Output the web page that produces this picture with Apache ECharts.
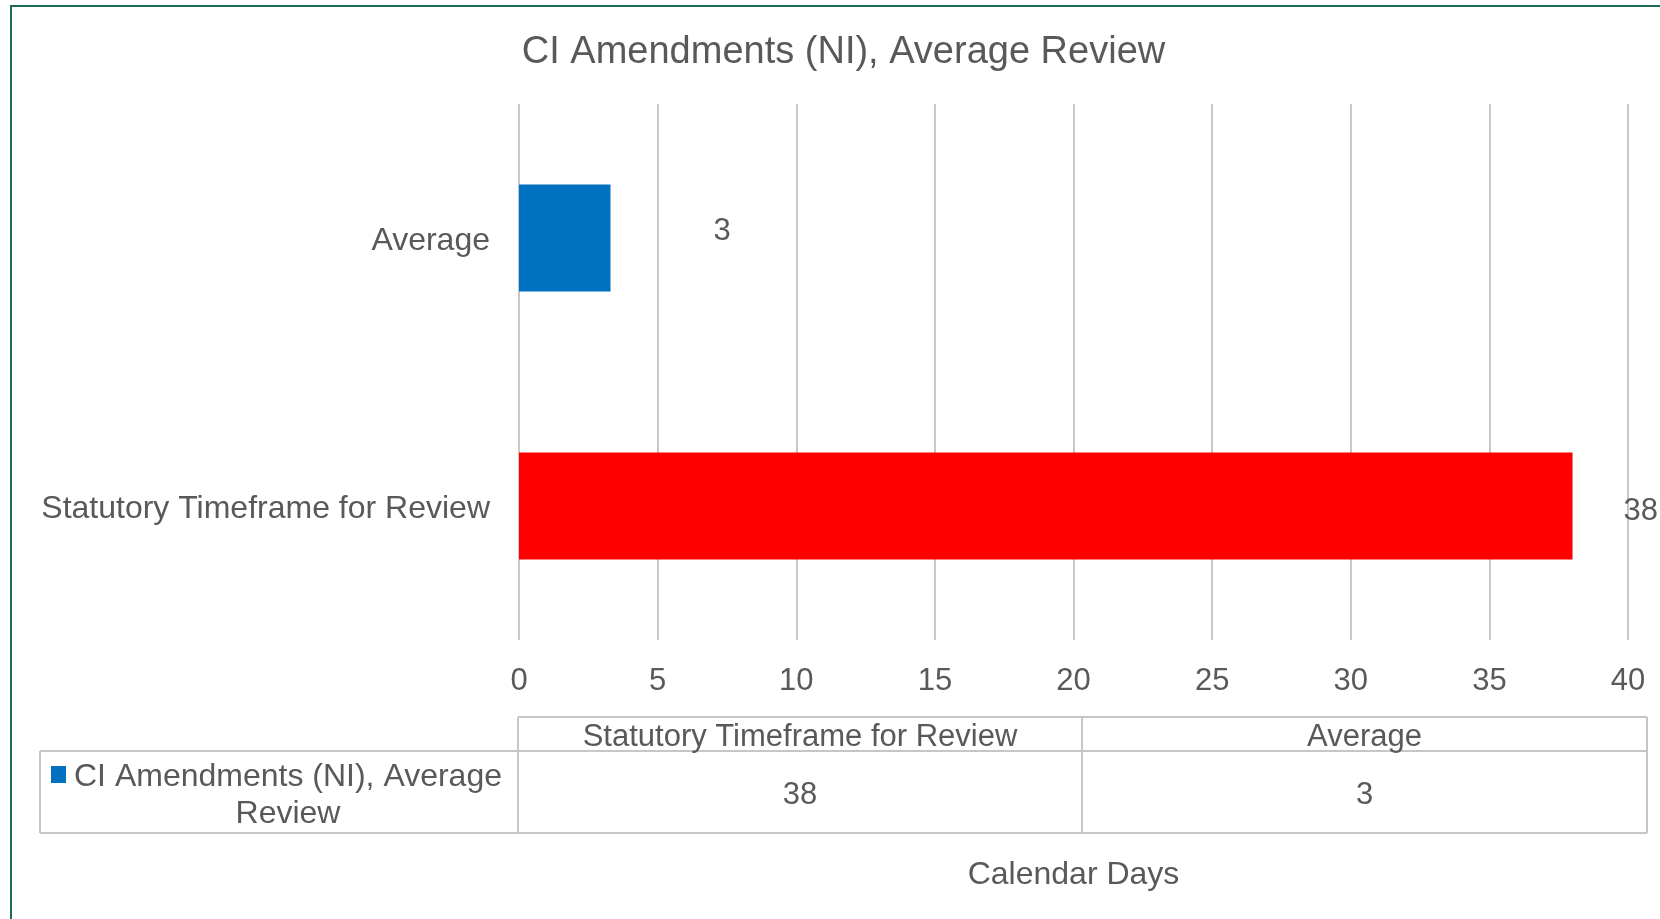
<!DOCTYPE html>
<html>
<head>
<meta charset="utf-8">
<script src="https://cdn.jsdelivr.net/npm/echarts@6/dist/echarts.min.js"></script>
<style>
  html, body { margin: 0; padding: 0; background: #ffffff; }
  #chart { width: 1660px; height: 919px; }
</style>
</head>
<body>
<div id="chart"></div>
<script>
// ---- data ----
const chartTitle = 'CI Amendments (NI), Average Review';
const seriesName = 'CI Amendments (NI), Average Review';
const categories = ['Statutory Timeframe for Review', 'Average'];
const values = [38, 3.3];
const axisTitle = 'Calendar Days';
const axisMin = 0;
const axisMax = 40;
const axisStep = 5;

// ---- styling / layout ----
const FONT = '"Liberation Sans", Arial, sans-serif';
const TEXT = '#595959';
const GRID_COLOR = '#c9c9c9';
const TABLE_LINE = '#c6c6c6';
const barColors = ['#ff0000', '#0070c0'];
const labelDistance = [51, 103];
const labelOffsetY = [5.5, -7];
const DY = 3; // baseline correction for text

const fmt = v => String(Math.round(v));

const chart = echarts.init(document.getElementById('chart'), null, { renderer: 'canvas' });

// table geometry
const tX0 = 40, tX1 = 518, tX2 = 1082, tX3 = 1647;
const tY0 = 717, tY1 = 751, tY2 = 833;
const colCenters = [(tX1 + tX2) / 2, (tX2 + tX3) / 2];

function line(x1, y1, x2, y2) {
  return { type: 'line', shape: { x1, y1, x2, y2 }, style: { stroke: TABLE_LINE, lineWidth: 2 }, silent: true };
}
function txt(text, x, y, size, align) {
  return { type: 'text', x, y: y + DY, style: { text, font: size + 'px ' + FONT, fill: TEXT, align: align || 'center', verticalAlign: 'middle' }, silent: true };
}

const graphics = [
  // outer frame
  { type: 'rect', shape: { x: 11, y: 6, width: 1700, height: 1000 }, style: { fill: 'none', stroke: '#1d6b59', lineWidth: 2 }, silent: true },
  // table grid
  line(tX1, tY0, tX3, tY0),
  line(tX0, tY1, tX3, tY1),
  line(tX0, tY2, tX3, tY2),
  line(tX0, tY1, tX0, tY2),
  line(tX1, tY0, tX1, tY2),
  line(tX2, tY0, tX2, tY2),
  line(tX3, tY0, tX3, tY2),
  // legend key
  { type: 'rect', shape: { x: 51, y: 766, width: 15, height: 17 }, style: { fill: barColors[1] }, silent: true },
  txt('CI Amendments (NI), Average', 288, 774.5, 32),
  txt('Review', 288, 811, 32)
];
categories.forEach((c, i) => {
  graphics.push(txt(c, colCenters[i], (tY0 + tY1) / 2, 31));
  graphics.push(txt(fmt(values[i]), colCenters[i], (tY1 + tY2) / 2, 31));
});

const option = {
  backgroundColor: '#ffffff',
  animation: false,
  title: {
    text: chartTitle,
    left: 843.5,
    top: 34,
    padding: 0,
    textAlign: 'center',
    textStyle: { fontFamily: FONT, fontSize: 38, fontWeight: 'normal', color: TEXT }
  },
  grid: { left: 519, right: 32, top: 104, bottom: 279, containLabel: false },
  xAxis: {
    type: 'value',
    min: axisMin,
    max: axisMax,
    interval: axisStep,
    name: axisTitle,
    nameLocation: 'middle',
    nameGap: 219,
    nameTextStyle: { fontFamily: FONT, fontSize: 32, color: TEXT },
    axisLine: { show: false },
    axisTick: { show: false },
    axisLabel: { fontFamily: FONT, fontSize: 31, color: TEXT, margin: 26 },
    splitLine: { show: true, lineStyle: { color: GRID_COLOR, width: 2 } }
  },
  yAxis: {
    type: 'category',
    data: categories,
    axisLine: { show: false },
    axisTick: { show: false },
    axisLabel: { fontFamily: FONT, fontSize: 32, color: TEXT, margin: 29, verticalAlign: 'top', lineHeight: 6 },
    splitLine: { show: false }
  },
  series: [{
    name: seriesName,
    type: 'bar',
    barWidth: '40%',
    z: 3,
    data: values.map((v, i) => ({
      value: v,
      itemStyle: { color: barColors[i] },
      label: { distance: labelDistance[i], offset: [0, labelOffsetY[i]] }
    })),
    label: {
      show: true,
      position: 'right',
      fontFamily: FONT,
      fontSize: 31,
      color: TEXT,
      formatter: p => fmt(p.value)
    }
  }],
  graphic: graphics
};

chart.setOption(option);
</script>
</body>
</html>
